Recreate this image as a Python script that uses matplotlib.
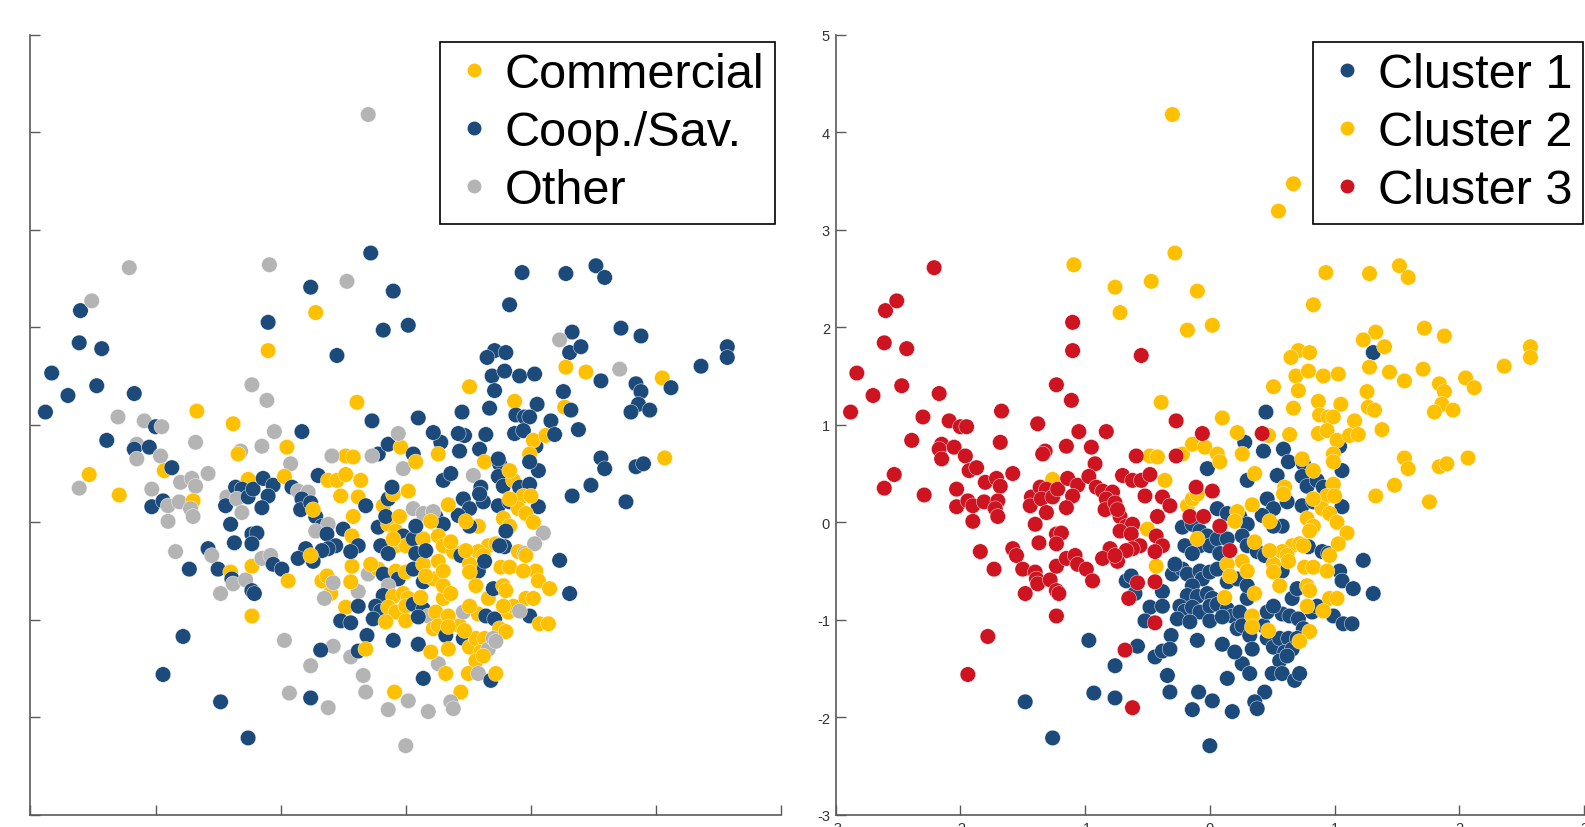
import matplotlib
matplotlib.use('Agg')
import matplotlib.pyplot as plt
from matplotlib.lines import Line2D
import numpy as np

plt.rcParams['font.family'] = ['Liberation Sans', 'DejaVu Sans']
plt.rcParams['axes.unicode_minus'] = False

# bank type codes: C = Commercial, S = Coop./Sav., O = Other
# cluster 1 (blue)
c1_x = [1.31, 0.45, -0.97, -0.93, -1.48, -1.26, 0.28, 0.43, 0.59, 0.63,
        -0.02, 0.30, 0.54, 0.75, 0.74, 0.78, 0.86, 0.91, 1.04, 1.06,
        0.74, 0.83, 1.06, 0.46, 0.51, 0.62, 0.42, 0.58, 0.51, 0.06,
        0.14, 0.24, 0.30, -0.22, -0.14, -0.08, -0.02, -0.20, -0.08, 0.00,
        0.06, 0.14, 0.26, 0.30, 0.38, 0.44, -0.14, 0.08, 0.79, 0.90,
        0.95, 0.58, 1.04, 1.06, 1.15, 1.23, 1.31, -0.67, -0.63, -0.60,
        -0.38, -0.48, -0.38, -0.30, -0.22, -0.18, -0.28, -0.08, -0.06, 0.00,
        0.06, 0.14, 0.22, -0.14, -0.18, -0.10, -0.02, 0.02, -0.24, -0.20,
        -0.14, -0.08, 0.00, 0.06, 0.14, 0.18, 0.24, 0.30, 0.30, -0.26,
        -0.16, 0.00, 0.10, 0.22, 0.26, 0.43, 0.46, 0.58, 0.64, 0.71,
        0.82, 0.86, 0.51, 0.66, 0.70, 0.99, 1.07, 1.14, 0.75, 0.32,
        0.34, 0.46, 0.51, 0.56, 0.63, 0.60, 0.66, 0.70, 0.56, 0.62,
        0.50, 0.58, 0.68, 0.72, 0.26, 0.32, 0.14, 0.44, 0.36, 0.38,
        0.10, 0.20, -0.10, -0.31, -0.58, -0.44, -0.38, -0.32, -0.76, -0.34,
        -0.32, -0.76, -0.14, -0.09, 0.02, 0.18, 0.00, -0.52]
c1_y = [1.74, 1.13, -1.21, -1.75, -1.84, -2.21, 0.82, 0.73, 0.75, 0.62,
        0.55, 0.43, 0.48, 0.60, 0.47, 0.37, 0.43, 0.36, 0.78, 0.53,
        0.17, 0.21, 0.16, 0.24, 0.14, 0.21, 0.07, -0.04, -0.04, 0.14,
        0.09, 0.06, -0.02, -0.05, -0.02, -0.09, -0.14, -0.24, -0.24, -0.24,
        -0.17, -0.17, -0.14, -0.24, -0.30, -0.34, -0.32, -0.32, -0.25, -0.30,
        -0.32, -0.50, -0.50, -0.60, -0.68, -0.39, -0.73, -0.60, -0.55, -0.73,
        -0.71, -0.87, -0.86, -0.53, -0.48, -0.53, -0.43, -0.50, -0.58, -0.51,
        -0.48, -0.61, -0.58, -0.65, -0.75, -0.76, -0.73, -0.78, -0.86, -0.91,
        -0.87, -0.92, -0.86, -0.84, -0.89, -0.96, -0.92, -0.78, -0.65, -0.99,
        -1.02, -1.01, -0.97, -1.09, -1.06, -1.06, -0.92, -0.94, -0.96, -0.99,
        -0.92, -0.86, -0.86, -0.78, -0.68, -0.96, -1.04, -1.04, -1.09, -1.16,
        -1.30, -1.19, -1.28, -1.19, -1.19, -1.33, -1.30, -1.19, -1.42, -1.37,
        -1.55, -1.55, -1.62, -1.55, -1.45, -1.55, -1.60, -1.74, -1.84, -1.91,
        -1.25, -1.33, -1.21, -1.16, -1.27, -1.38, -1.32, -1.30, -1.47, -1.57,
        -1.74, -1.80, -1.92, -1.74, -1.83, -1.94, -2.29, -1.01]
c1_type = ("SSOOSSSSSC" "OSOSSSCSSS" "SSSSSSSCSO" "OSSSCCSSCC" "SCCCCSSSSC"
           "OSCCCSSCCC" "OCSOCSCCSC" "SSCOSCCCSS" "CCCSSOCCCS" "CCSCCCOCSS"
           "CCCCSSCCCS" "CSCCCCOOCC" "COSCOCSCOO" "SCSSOOSCOO" "OSOCOOOS")

# cluster 2 (yellow)
c2_x = [-0.30, -1.09, -0.76, -0.72, -0.47, -0.28, -0.10, -0.18, -0.39, 0.67,
        0.55, 0.93, 1.28, 1.52, 1.59, 0.83, 0.02, 1.72, 1.88, 1.33,
        1.23, 1.40, 2.57, 2.57, 2.36, 0.71, 0.80, 0.65, 0.69, 0.79,
        0.91, 1.03, 1.28, 1.44, 1.71, 1.56, 2.05, 2.12, 1.84, 1.88,
        0.51, 0.71, 1.26, 0.87, 1.05, 0.67, 1.27, 1.32, 1.86, 1.80,
        1.95, 0.88, 0.95, 0.99, 0.10, 1.16, 1.38, 1.56, 1.59, 1.84,
        1.90, 2.07, 1.48, 1.33, 1.76, 0.22, 0.64, 0.87, 0.94, 1.02,
        1.12, 1.19, 0.99, 0.99, 0.74, 0.83, 0.99, 0.94, 1.00, 0.90,
        0.96, 1.02, 1.10, 1.03, 0.96, 0.60, 0.59, 0.83, 0.78, 0.83,
        0.80, 0.66, 0.72, 0.75, 0.58, 0.62, 0.63, 0.51, 0.51, 0.76,
        0.83, 0.94, 0.56, 0.78, 0.80, 0.78, 0.96, 1.02, 0.91, 0.80,
        0.72, 0.47, 0.34, 0.34, 0.36, 0.12, 0.14, 0.16, 0.26, 0.30,
        0.36, 0.48, 0.48, 0.34, 0.22, 0.20, -0.10, -0.18, -0.14, -0.10,
        0.36, -0.43, -0.50, -0.36, -0.48, -0.42, -0.22, -0.14, -0.04, 0.06,
        0.08, 0.26, 0.47, -1.26]
c2_y = [4.18, 2.64, 2.41, 2.15, 2.47, 2.76, 2.37, 1.97, 1.23, 3.47,
        3.19, 2.56, 2.55, 2.63, 2.51, 2.23, 2.02, 1.99, 1.91, 1.95,
        1.87, 1.80, 1.80, 1.69, 1.60, 1.76, 1.74, 1.69, 1.50, 1.55,
        1.50, 1.52, 1.59, 1.54, 1.57, 1.45, 1.48, 1.38, 1.42, 1.34,
        1.39, 1.35, 1.34, 1.24, 1.21, 1.17, 1.18, 1.15, 1.21, 1.13,
        1.15, 1.10, 1.08, 1.08, 1.07, 1.04, 0.95, 0.66, 0.55, 0.57,
        0.60, 0.66, 0.38, 0.27, 0.21, 0.92, 0.90, 0.91, 0.94, 0.84,
        0.89, 0.90, 0.70, 0.62, 0.65, 0.53, 0.39, 0.27, 0.27, 0.14,
        0.09, 0.00, -0.11, -0.22, -0.34, 0.36, 0.29, 0.24, 0.04, -0.04,
        -0.09, -0.24, -0.22, -0.24, -0.30, -0.34, -0.40, -0.43, -0.51, -0.46,
        -0.46, -0.50, -0.65, -0.65, -0.70, -0.86, -0.78, -0.78, -0.91, -1.12,
        -1.22, -1.11, -0.96, -1.07, -0.73, -0.77, -0.43, -0.55, -0.40, -0.50,
        -0.20, -0.29, 0.01, 0.18, 0.11, 0.01, -0.17, 0.17, 0.24, 0.29,
        0.50, -0.45, -0.07, 0.43, 0.68, 0.67, 0.70, 0.80, 0.77, 0.70,
        0.62, 0.70, 0.89, 0.44]
c2_type = ("OOSCOSSSCS" "SSSSSSSSSS" "OSSSSSSSSS" "SSCCOSCSSS" "CSSCSSCSSS"
           "SSSSSSSSSS" "SCSSSSSSSC" "CSCSSCSCCC" "CCOOCSSCCC" "SCCSCCSCCC"
           "CCCCCCCCOC" "OCCCCCCCCC" "CCCCOCCCSC" "SCSCCCSSCS" "CCSC")

# cluster 3 (red)
c3_x = [-2.88, -2.83, -2.70, -2.60, -2.51, -2.61, -2.43, -2.47, -2.21, -2.17,
        -2.30, -2.09, -2.00, -1.95, -1.67, -1.38, -1.23, -1.11, -1.10, -1.10,
        -0.55, -0.27, -0.83, -0.06, 0.42, -0.59, -0.27, -0.70, -0.62, -0.55,
        -0.48, -0.52, -0.38, -0.32, -0.11, 0.02, -0.16, -0.05, 0.08, 0.16,
        -0.42, -0.43, -0.38, -0.44, -0.72, -0.67, -0.62, -0.72, -0.63, -0.56,
        -0.62, -0.67, -0.80, -0.74, -0.86, -0.58, -0.44, -0.65, -0.44, -0.68,
        -0.62, -2.39, -2.15, -2.17, -2.05, -2.15, -1.96, -1.68, -1.32, -1.34,
        -1.15, -1.05, -0.95, -0.92, -2.53, -2.61, -2.29, -2.03, -1.93, -1.87,
        -2.03, -1.94, -1.90, -1.90, -1.80, -1.81, -1.71, -1.68, -1.70, -1.72,
        -1.70, -1.58, -1.43, -1.44, -1.36, -1.31, -1.35, -1.26, -1.22, -1.14,
        -1.06, -1.10, -1.15, -1.31, -1.40, -0.97, -0.91, -0.86, -0.78,
        -0.83, -0.84, -0.76, -0.74, -1.23, -1.19, -1.23, -1.37, -1.84, -1.58,
        -1.55, -1.73, -1.50, -1.40, -1.39, -1.38, -1.48, -1.28, -1.23, -1.21,
        -1.23, -1.15, -1.08, -1.06, -0.99, -0.94, -1.23, -1.78, -1.94, -0.76]
c3_y = [1.13, 1.53, 1.30, 2.17, 2.27, 1.84, 1.78, 1.40, 2.61, 1.32,
        1.08, 1.04, 0.98, 0.98, 1.14, 1.01, 1.41, 1.25, 2.05, 1.76,
        1.71, 1.04, 0.93, 0.91, 0.91, 0.68, 0.68, 0.48, 0.43, 0.43,
        0.49, 0.27, 0.26, 0.17, 0.36, 0.32, 0.06, 0.06, -0.04, -0.29,
        0.06, -0.14, -0.24, -0.30, 0.06, -0.04, -0.02, -0.09, -0.12, -0.24,
        -0.27, -0.29, -0.27, -0.40, -0.37, -0.62, -0.61, -0.78, -1.03, -1.31,
        -1.90, 0.84, 0.80, 0.75, 0.77, 0.65, 0.68, 0.82, 0.73, 0.70,
        0.78, 0.93, 0.77, 0.60, 0.49, 0.35, 0.28, 0.34, 0.53, 0.56,
        0.16, 0.22, 0.17, 0.01, 0.41, 0.21, 0.45, 0.37, 0.22, 0.14,
        0.06, 0.50, 0.26, 0.17, 0.36, 0.34, 0.24, 0.26, 0.34, 0.45,
        0.38, 0.27, 0.15, 0.10, -0.02, 0.47, 0.36, 0.32, 0.31,
        0.24, 0.13, 0.20, 0.13, -0.12, -0.11, -0.22, -0.21, -0.30, -0.27,
        -0.34, -0.48, -0.48, -0.51, -0.58, -0.63, -0.73, -0.59, -0.70, -0.73,
        -0.45, -0.37, -0.34, -0.43, -0.48, -0.60, -0.96, -1.17, -1.56, -0.34]
c3_type = ("SSSSOSSSOS" "OOSOCCOOSC" "SSSOSOOSCC" "CCCSSCSCSS" "CCSSSSOOSS"
           "SSSSSOCOSS" "OSOSSOOOOC" "OOCOCOCOCS" "SSOOOOOOCO" "OOOSSSOSSS"
           "SSSOSCSOO" "SSSCSSSSOS" "OSSCSOOOSS" "COOSSCCSSC")

type_names = ['Commercial', 'Coop./Sav.', 'Other']
type_codes = ['C', 'S', 'O']
cluster_names = ['Cluster 1', 'Cluster 2', 'Cluster 3']

blue = '#1B4A7B'
yellow = '#FFC000'
gray = '#B4B4B4'
red = '#CD1420'
type_colors = {'C': yellow, 'S': blue, 'O': gray}
cluster_colors = [blue, yellow, red]

x = np.array(c1_x + c2_x + c3_x)
y = np.array(c1_y + c2_y + c3_y)
types = list(c1_type + c2_type + c3_type)
clusters = [0] * len(c1_x) + [1] * len(c2_x) + [2] * len(c3_x)

fig = plt.figure(figsize=(15.85, 8.28), dpi=100)
ax1 = fig.add_axes([0.0192, 0.0145, 0.4736, 0.9426])
ax2 = fig.add_axes([0.5272, 0.0145, 0.4722, 0.9426])

for ax in (ax1, ax2):
    ax.set_xlim(-3, 3)
    ax.set_ylim(-3, 5)
    ax.set_xticks(range(-3, 4))
    ax.set_yticks(range(-3, 6))
    ax.spines['top'].set_visible(False)
    ax.spines['right'].set_visible(False)
    for s in ('left', 'bottom'):
        ax.spines[s].set_color('#5a5a5a')
        ax.spines[s].set_linewidth(1.2)
    ax.tick_params(direction='in', length=7, width=1, color='#5a5a5a',
                   labelsize=10.5, labelcolor='#333333', pad=4)

ax1.set_xticklabels([])
ax1.set_yticklabels([])

ax1.scatter(x, y, c=[type_colors[t] for t in types], s=125,
            edgecolors='white', linewidths=0.3, zorder=3, clip_on=False)
ax2.scatter(x, y, c=[cluster_colors[k] for k in clusters], s=125,
            edgecolors='white', linewidths=0.3, zorder=3, clip_on=False)

def dot(color):
    return Line2D([], [], ls='none', marker='o', markersize=9,
                  markerfacecolor=color, markeredgecolor=color)

leg_kw = dict(loc='upper left', fontsize=35, frameon=True, fancybox=False,
              framealpha=1, edgecolor='black', borderpad=0.22,
              handlelength=0.95, handletextpad=0.16, labelspacing=0.27,
              borderaxespad=0)
l1 = ax1.legend([dot(type_colors[c]) for c in type_codes], type_names,
                bbox_to_anchor=(0.5457, 0.991), **leg_kw)
l2 = ax2.legend([dot(c) for c in cluster_colors], cluster_names,
                bbox_to_anchor=(0.638, 0.991), **leg_kw)
for l in (l1, l2):
    l.get_frame().set_linewidth(1.2)
    l.set_zorder(5)

fig.savefig('out.png', dpi=100)
